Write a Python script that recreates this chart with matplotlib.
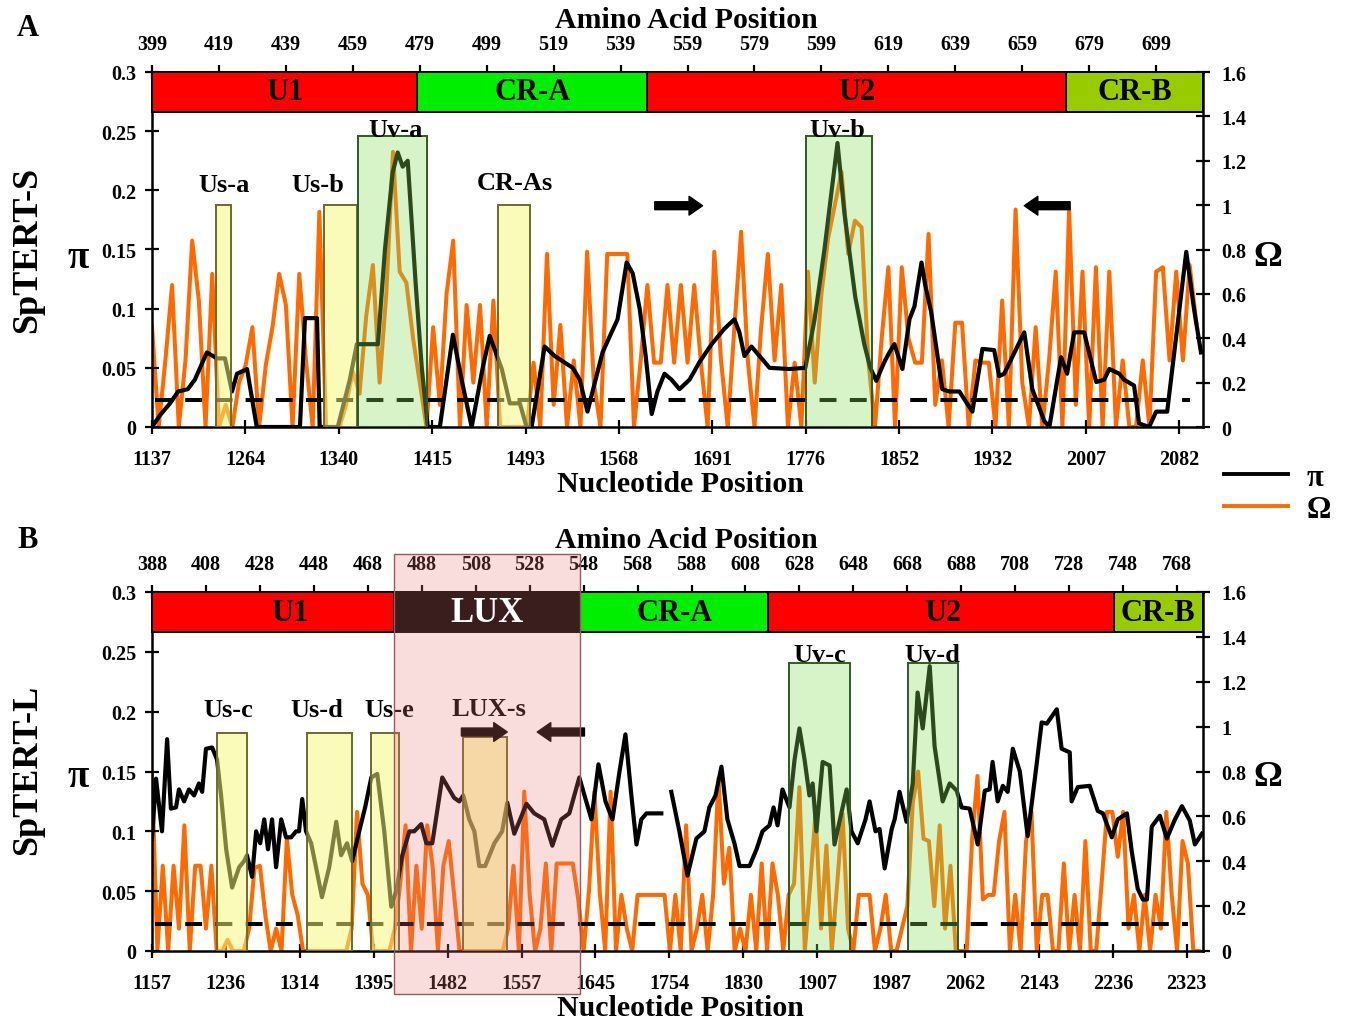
import matplotlib
matplotlib.use("Agg")
import matplotlib.pyplot as plt
import numpy as np
from matplotlib.patches import Rectangle
from matplotlib.lines import Line2D

plt.rcParams['font.family'] = ['Liberation Serif', 'DejaVu Serif']
plt.rcParams['font.weight'] = 'bold'

ORANGE = '#ff6a00'

# ---------------- panel A : SpTERT-S ----------------
aa_range_a = (399, 713)
aa_ticks_a = list(range(399, 700, 20))
nt_labels_a = ['1137', '1264', '1340', '1415', '1493', '1568', '1691',
               '1776', '1852', '1932', '2007', '2082']
domains_a = ['U1', 'CR-A', 'U2', 'CR-B']
domain_edges_a = [399, 478.3, 546.9, 672.1, 713]
# shaded sub-regions: (start, end, height on pi scale, kind)
regions_a = [(418.2, 422.7, 0.188, 'y'), (450.5, 460.1, 0.188, 'y'),
             (460.4, 481.3, 0.246, 'g'), (502.3, 511.9, 0.188, 'y'),
             (594.5, 614.0, 0.246, 'g')]
region_names_a = ['Us-a', 'Us-b', 'Uv-a', 'CR-As', 'Uv-b']

pi_a_pos = [399, 401.4, 404.4, 406.8, 409.7, 411.8, 415.4, 418.4, 420.8, 422.9,
            424.4, 427.4, 430.3, 434.2, 443.2, 444.7, 448.3, 449.1, 454.5, 458.1,
            460.2, 464.7, 466.5, 468.6, 470.9, 472.4, 473.9, 475.4, 477.8, 479.6,
            481.4, 485.0, 488.9, 491.5, 494.5, 497.8, 499.9, 503.5, 505.9, 508.9,
            510.9, 512.4, 516.3, 519.3, 524.7, 526.8, 529.1, 533.6, 536.3, 538.1,
            540.8, 542.6, 544.7, 546.5, 548.3, 550.0, 552.1, 554.2, 556.6, 559.6,
            562.6, 566.2, 570.0, 573.0, 574.5, 576.0, 578.1, 580.5, 583.5, 589.4,
            594.2, 596.9, 599.9, 603.8, 605.9, 609.1, 611.8, 613.6, 615.4, 617.8,
            619.3, 620.8, 623.2, 625.3, 626.8, 628.9, 630.0, 631.8, 635.1, 637.2,
            640.2, 644.1, 647.1, 650.6, 652.1, 653.6, 659.6, 662.0, 665.6, 667.1,
            670.6, 672.4, 674.5, 677.5, 681.1, 683.5, 685.0, 688.0, 689.4, 692.4,
            693.9, 696.9, 699.0, 702.3, 708.0, 710.3, 712.4]
pi_a = [0.0, 0.01, 0.02, 0.03, 0.032, 0.04, 0.063, 0.058, 0.058, 0.03,
        0.045, 0.049, 0.0, 0.0, 0.0, 0.092, 0.092, 0.0, 0.0, 0.04,
        0.07, 0.07, 0.07, 0.15, 0.215, 0.232, 0.22, 0.225, 0.12, 0.05,
        0.0, 0.0, 0.078, 0.04, 0.0, 0.05, 0.077, 0.049, 0.02, 0.02,
        0.0, 0.0, 0.068, 0.06, 0.05, 0.04, 0.013, 0.063, 0.08, 0.091,
        0.139, 0.13, 0.1, 0.06, 0.011, 0.03, 0.045, 0.04, 0.032, 0.04,
        0.055, 0.07, 0.083, 0.091, 0.08, 0.06, 0.068, 0.06, 0.05, 0.049,
        0.05, 0.09, 0.15, 0.24, 0.18, 0.11, 0.07, 0.05, 0.039, 0.055,
        0.063, 0.07, 0.049, 0.091, 0.102, 0.139, 0.12, 0.097, 0.032, 0.03,
        0.03, 0.013, 0.066, 0.065, 0.043, 0.045, 0.08, 0.032, 0.005, 0.0,
        0.059, 0.045, 0.08, 0.08, 0.038, 0.04, 0.049, 0.045, 0.04, 0.035,
        0.003, 0.0, 0.013, 0.013, 0.148, 0.1, 0.063]
# omega, one value every 2 amino acids from the start of the range
omega_a = [0.45, 0.0, 0.3, 0.64, 0.0, 0.3, 0.84, 0.57, 0.0, 0.69,
           0.0, 0.1, 0.0, 0.2, 0.28, 0.45, 0.0, 0.28, 0.45, 0.69,
           0.55, 0.0, 0.69, 0.3, 0.0, 0.97, 0.0, 0.0, 0.0, 0.1,
           0.25, 0.15, 0.5, 0.73, 0.2, 0.6, 1.24, 0.7, 0.65, 0.4,
           0.2, 0.0, 0.45, 0.1, 0.6, 0.84, 0.0, 0.55, 0.2, 0.55,
           0.0, 0.57, 0.0, 0.0, 0.0, 0.0, 0.0, 0.29, 0.0, 0.78,
           0.1, 0.46, 0.0, 0.3, 0.0, 0.79, 0.2, 0.0, 0.78, 0.78,
           0.78, 0.78, 0.0, 0.3, 0.64, 0.29, 0.29, 0.64, 0.29, 0.64,
           0.29, 0.64, 0.29, 0.0, 0.79, 0.3, 0.0, 0.45, 0.88, 0.3,
           0.0, 0.45, 0.78, 0.3, 0.64, 0.0, 0.29, 0.0, 0.7, 0.2,
           0.6, 0.85, 1.0, 1.15, 0.78, 0.93, 0.9, 0.3, 0.0, 0.4,
           0.72, 0.0, 0.72, 0.4, 0.29, 0.29, 0.87, 0.1, 0.3, 0.0,
           0.47, 0.47, 0.0, 0.3, 0.29, 0.29, 0.0, 0.57, 0.0, 0.98,
           0.2, 0.0, 0.45, 0.0, 0.3, 0.7, 0.0, 0.98, 0.1, 0.7,
           0.0, 0.72, 0.0, 0.7, 0.0, 0.3, 0.0, 0.0, 0.3, 0.0,
           0.7, 0.72, 0.3, 0.7, 0.3, 0.73, 0.47]

# ---------------- panel B : SpTERT-L ----------------
aa_range_b = (388, 777.6)
aa_ticks_b = list(range(388, 769, 20))
nt_labels_b = ['1157', '1236', '1314', '1395', '1482', '1557', '1645', '1754',
               '1830', '1907', '1987', '2062', '2143', '2236', '2323']
domains_b = ['U1', 'LUX', 'CR-A', 'U2', 'CR-B']
domain_edges_b = [388, 477.8, 546.8, 616.5, 744.5, 777.6]
regions_b = [(412.1, 423.2, 0.182, 'y'), (445.5, 462.2, 0.182, 'y'),
             (469.3, 479.6, 0.182, 'y'), (503.4, 519.7, 0.179, 'y'),
             (624.3, 646.6, 0.241, 'g'), (668.1, 686.7, 0.241, 'g')]
region_names_b = ['Us-c', 'Us-d', 'Us-e', 'LUX-s', 'Uv-c', 'Uv-d']

pi_b_pos = [388.0, 389.5, 391.7, 393.6, 395.0, 396.9, 398.0, 399.9, 401.7, 403.6,
            405.4, 406.6, 408.0, 410.3, 412.1, 413.6, 415.5, 417.7, 420.3, 422.1,
            423.2, 425.1, 426.6, 428.1, 429.6, 431.0, 432.5, 434.0, 435.9, 437.7,
            439.6, 441.4, 442.5, 443.7, 445.1, 447.0, 448.8, 451.0, 453.7, 456.3,
            458.1, 460.3, 462.2, 464.8, 467.0, 469.3, 471.5, 474.1, 476.7, 478.5,
            480.8, 483.4, 485.2, 487.8, 489.7, 491.9, 495.6, 498.2, 500.0, 501.9,
            503.4, 505.6, 507.5, 509.3, 511.5, 514.9, 517.8, 519.7, 522.3, 526.8,
            529.7, 533.4, 536.4, 539.7, 542.7, 546.4, 550.9, 553.5, 556.1, 558.7,
            561.3, 563.5, 565.7, 567.6, 569.4, 571.3, 574.2, 576.8, 578.5, 580.5,
            583.5, 586.5, 589.8, 592.8, 594.6, 596.9, 599.1, 601.3, 603.9, 605.8,
            609.5, 612.1, 614.3, 616.9, 618.4, 619.9, 621.7, 624.3, 626.2, 628.0,
            629.9, 631.7, 632.9, 634.3, 636.6, 639.2, 641.0, 644.0, 645.5, 647.3,
            649.6, 652.5, 654.0, 656.2, 657.7, 659.6, 662.2, 663.3, 665.1, 667.7,
            670.0, 671.8, 673.7, 676.3, 678.1, 681.1, 683.7, 686.3, 688.1, 691.1,
            694.1, 696.7, 698.5, 699.6, 701.5, 703.4, 705.2, 707.1, 709.7, 712.6,
            715.6, 717.8, 719.7, 723.4, 725.2, 728.2, 728.9, 731.2, 735.6, 738.6,
            740.5, 743.8, 746.0, 749.4, 751.2, 753.4, 755.3, 756.8, 758.6, 761.6,
            764.2, 767.2, 769.8, 772.7, 774.6, 777.2]
pi_b = [0.094, 0.144, 0.1, 0.177, 0.119, 0.12, 0.135, 0.125, 0.135, 0.13,
        0.14, 0.133, 0.169, 0.17, 0.16, 0.13, 0.085, 0.053, 0.07, 0.075,
        0.08, 0.062, 0.1, 0.09, 0.11, 0.085, 0.11, 0.07, 0.11, 0.095,
        0.095, 0.1, 0.1, 0.127, 0.1, 0.09, 0.07, 0.045, 0.07, 0.108,
        0.08, 0.09, 0.075, 0.1, 0.12, 0.145, 0.148, 0.1, 0.037, 0.05,
        0.08, 0.1, 0.1, 0.106, 0.09, 0.09, 0.145, 0.135, 0.128, 0.125,
        0.13, 0.11, 0.1, 0.071, 0.071, 0.09, 0.1, 0.124, 0.098, 0.123,
        0.115, 0.11, 0.088, 0.11, 0.115, 0.145, 0.11, 0.156, 0.125, 0.11,
        0.15, 0.181, 0.13, 0.089, 0.11, 0.115, 0.115, 0.115, np.nan, 0.133,
        0.1, 0.063, 0.094, 0.1, 0.12, 0.13, 0.154, 0.11, 0.09, 0.071,
        0.071, 0.085, 0.1, 0.105, 0.12, 0.105, 0.135, 0.12, 0.16, 0.186,
        0.16, 0.13, 0.14, 0.1, 0.158, 0.155, 0.089, 0.12, 0.135, 0.1,
        0.09, 0.11, 0.125, 0.1, 0.102, 0.069, 0.102, 0.11, 0.133, 0.108,
        0.14, 0.216, 0.186, 0.238, 0.171, 0.125, 0.14, 0.134, 0.12, 0.119,
        0.089, 0.134, 0.135, 0.158, 0.125, 0.138, 0.133, 0.169, 0.15, 0.096,
        0.15, 0.191, 0.19, 0.202, 0.169, 0.166, 0.125, 0.137, 0.138, 0.117,
        0.115, 0.095, 0.11, 0.115, 0.083, 0.052, 0.043, 0.043, 0.104, 0.113,
        0.094, 0.11, 0.121, 0.109, 0.089, 0.098]
omega_b = [0.78, 0.0, 0.38, 0.0, 0.38, 0.1, 0.56, 0.0, 0.38, 0.38,
           0.1, 0.38, 0.0, 0.0, 0.05, 0.0, 0.0, 0.0, 0.1, 0.37,
           0.38, 0.16, 0.0, 0.1, 0.0, 0.5, 0.25, 0.16, 0.0, 0.0,
           0.0, 0.0, 0.0, 0.0, 0.0, 0.0, 0.0, 0.1, 0.62, 0.3,
           0.25, 0.0, 0.0, 0.0, 0.0, 0.1, 0.3, 0.56, 0.0, 0.38,
           0.1, 0.56, 0.38, 0.0, 0.38, 0.49, 0.25, 0.0, 0.0, 0.0,
           0.0, 0.0, 0.0, 0.0, 0.0, 0.0, 0.1, 0.38, 0.0, 0.71,
           0.25, 0.0, 0.1, 0.39, 0.0, 0.39, 0.39, 0.39, 0.39, 0.23,
           0.0, 0.27, 0.71, 0.26, 0.0, 0.71, 0.0, 0.25, 0.1, 0.0,
           0.25, 0.25, 0.25, 0.25, 0.25, 0.25, 0.0, 0.25, 0.0, 0.56,
           0.0, 0.1, 0.25, 0.0, 0.25, 0.77, 0.3, 0.46, 0.0, 0.1,
           0.0, 0.25, 0.0, 0.39, 0.0, 0.39, 0.25, 0.0, 0.25, 0.3,
           0.73, 0.0, 0.3, 0.62, 0.1, 0.47, 0.0, 0.3, 0.61, 0.1,
           0.0, 0.25, 0.25, 0.25, 0.0, 0.1, 0.25, 0.0, 0.0, 0.1,
           0.2, 0.66, 0.8, 0.5, 0.49, 0.2, 0.56, 0.1, 0.38, 0.0,
           0.0, 0.0, 0.5, 0.78, 0.23, 0.25, 0.25, 0.49, 0.62, 0.0,
           0.25, 0.0, 0.49, 0.62, 0.0, 0.25, 0.25, 0.0, 0.0, 0.39,
           0.0, 0.25, 0.0, 0.49, 0.0, 0.0, 0.3, 0.62, 0.62, 0.42,
           0.62, 0.1, 0.25, 0.0, 0.25, 0.0, 0.25, 0.1, 0.62, 0.25,
           0.0, 0.49, 0.39, 0.0, 0.0]

lux_span = (477.8, 546.8)
pi_threshold = 0.0225
pi_ticks = [0, 0.05, 0.1, 0.15, 0.2, 0.25, 0.3]
pi_tick_labels = ['0', '0.05', '0.1', '0.15', '0.2', '0.25', '0.3']
om_ticks = [0, 0.2, 0.4, 0.6, 0.8, 1.0, 1.2, 1.4, 1.6]
om_tick_labels = ['0', '0.2', '0.4', '0.6', '0.8', '1', '1.2', '1.4', '1.6']

DOM_COLORS = {'U1': '#ff0000', 'U2': '#ff0000', 'CR-A': '#00ee00',
              'CR-B': '#99cc00', 'LUX': '#000000'}
BOX_FACE = {'y': (0.965, 0.965, 0.48, 0.52), 'g': (0.53, 0.88, 0.35, 0.33)}
BOX_EDGE = {'y': '#6b6b2a', 'g': '#2f5a25'}
BAR_BOTTOM = 0.2665

fig = plt.figure(figsize=(13.45, 10.2), dpi=100)


def panel(rect, xr, aa_ticks, nt_labels, nt_step, domains, edges, dom_lx,
          regions, names, name_pos, pi_pos, pi_val, om_val, thr_x, arrows):
    ax = fig.add_axes(rect)
    ax2 = ax.twinx()
    ax.yaxis.tick_right()
    ax2.yaxis.tick_left()

    om_pos = xr[0] + 2 * np.arange(len(om_val))
    ax.plot(om_pos, om_val, color=ORANGE, lw=2.9, zorder=2)
    ax2.plot(pi_pos, pi_val, color='black', lw=3.0, zorder=2)
    ax2.plot(thr_x, [pi_threshold, pi_threshold], color='black', lw=2.9,
             dashes=(4.2, 3.3), zorder=2)

    ax.set_xlim(*xr)
    ax.set_ylim(0, 1.6)
    ax2.set_ylim(0, 0.3)

    for (x0, x1, top, kind) in regions:
        ax2.add_patch(Rectangle((x0, 0), x1 - x0, top, fc=BOX_FACE[kind],
                                ec=BOX_EDGE[kind], lw=1.4, zorder=3))
    for name, (lx, ly) in zip(names, name_pos):
        ax2.text(lx, ly, name, ha='center', va='baseline', fontsize=19,
                 zorder=6)

    for i, d in enumerate(domains):
        ax2.add_patch(Rectangle((edges[i], BAR_BOTTOM), edges[i + 1] - edges[i],
                                0.3 - BAR_BOTTOM, fc=DOM_COLORS[d], ec='black',
                                lw=1.4, zorder=4, clip_on=False))
        if d != 'LUX':
            ax2.text(dom_lx[i], (BAR_BOTTOM + 0.3) / 2, d, ha='center',
                     va='center', fontsize=22, zorder=6)

    for (xs, xe, y) in arrows:
        ax2.annotate('', xy=(xe, y), xytext=(xs, y), zorder=6,
                     arrowprops=dict(arrowstyle='simple,head_length=0.65,'
                                     'head_width=0.9,tail_width=0.38',
                                     color='black', mutation_scale=15,
                                     shrinkA=0, shrinkB=0))

    for s in ax.spines.values():
        s.set_linewidth(1.8)
    for s in ax2.spines.values():
        s.set_visible(False)

    ax.set_xticks(xr[0] + nt_step * np.arange(len(nt_labels)), nt_labels)
    ax.set_yticks(om_ticks, om_tick_labels)
    ax2.set_yticks(pi_ticks, pi_tick_labels)
    ax.tick_params(axis='x', direction='inout', length=10, width=1.6,
                   labelsize=14.5, pad=11)
    ax.tick_params(axis='y', direction='inout', length=10, width=1.6,
                   labelsize=14.5, pad=8)
    ax2.tick_params(axis='y', direction='inout', length=10, width=1.6,
                    labelsize=14.5, pad=6)

    sec = ax.secondary_xaxis('top')
    sec.set_xticks(aa_ticks)
    sec.tick_params(direction='inout', length=10, width=1.6, labelsize=14.5,
                    pad=8)
    sec.spines['top'].set_linewidth(1.8)
    return ax, ax2


W, H = 1345.0, 1020.0
ax_a, ax2_a = panel([152 / W, 1 - 428 / H, 1051 / W, 355 / H], aa_range_a,
                    aa_ticks_a, nt_labels_a, 27.9, domains_a, domain_edges_a,
                    [438.7, 512.6, 609.5, 692.5],
                    regions_a, region_names_a,
                    [(420.5, 0.1995), (448.5, 0.1995), (471.7, 0.246),
                     (507.4, 0.201), (603.8, 0.246)],
                    pi_a_pos, pi_a, omega_a, (400, 709),
                    [(549.2, 563.5, 0.187), (673.3, 659.6, 0.187)])

ax_b, ax2_b = panel([152 / W, 1 - 952 / H, 1051 / W, 359 / H], aa_range_b,
                    aa_ticks_b, nt_labels_b, 27.4, domains_b, domain_edges_b,
                    [439.2, 512.3, 581.7, 681.0, 761.0],
                    regions_b, region_names_b,
                    [(416.2, 0.196), (449.2, 0.196), (476.0, 0.196),
                     (513.0, 0.197), (635.5, 0.242), (677.4, 0.242)],
                    pi_b_pos, pi_b, omega_b, (389, 772),
                    [(502.7, 519.7, 0.183), (548.3, 530.8, 0.183)])

# pink overlay marking the LUX domain, reaching past the axes
fig.add_artist(Rectangle((lux_span[0], -0.036), lux_span[1] - lux_span[0], 0.368,
                         transform=ax2_b.transData, fc=(0.92, 0.46, 0.46, 0.25),
                         ec=(0.6, 0.35, 0.35), lw=1.0, clip_on=False, zorder=10))
# white LUX label stays above the overlay
fig.text(sum(lux_span) / 2, (BAR_BOTTOM + 0.3) / 2, 'LUX', transform=ax2_b.transData,
         fontsize=25, color='white', ha='center', va='center', zorder=11)

# figure texts
fig.text(28 / W, 1 - 28 / H, 'A', fontsize=22, ha='center', va='center')
fig.text(28 / W, 1 - 540 / H, 'B', fontsize=22, ha='center', va='center')
for yc in (21, 541):
    fig.text(686 / W, 1 - yc / H, 'Amino Acid Position', fontsize=21.5,
             ha='center', va='center')
for yc in (485, 1009):
    fig.text(680 / W, 1 - yc / H, 'Nucleotide Position', fontsize=21.5,
             ha='center', va='center')
fig.text(28 / W, 1 - 250 / H, 'SpTERT-S', fontsize=26, rotation=90,
         ha='center', va='center')
fig.text(28 / W, 1 - 770 / H, 'SpTERT-L', fontsize=26, rotation=90,
         ha='center', va='center')
for yc in (258, 778):
    fig.text(78 / W, 1 - yc / H, 'π', fontsize=28, ha='center', va='center')
    fig.text(1268 / W, 1 - yc / H, 'Ω', fontsize=26, ha='center', va='center')

fig.legend(handles=[Line2D([], [], color='black', lw=2.8),
                    Line2D([], [], color=ORANGE, lw=2.8)],
           labels=['π', 'Ω'], loc='upper left',
           bbox_to_anchor=(1224 / W, 1 - 464 / H), frameon=False, fontsize=22,
           handlelength=2.1, handletextpad=0.6, borderpad=0, borderaxespad=0,
           labelspacing=0.1)

fig.savefig('out.png', dpi=100)
